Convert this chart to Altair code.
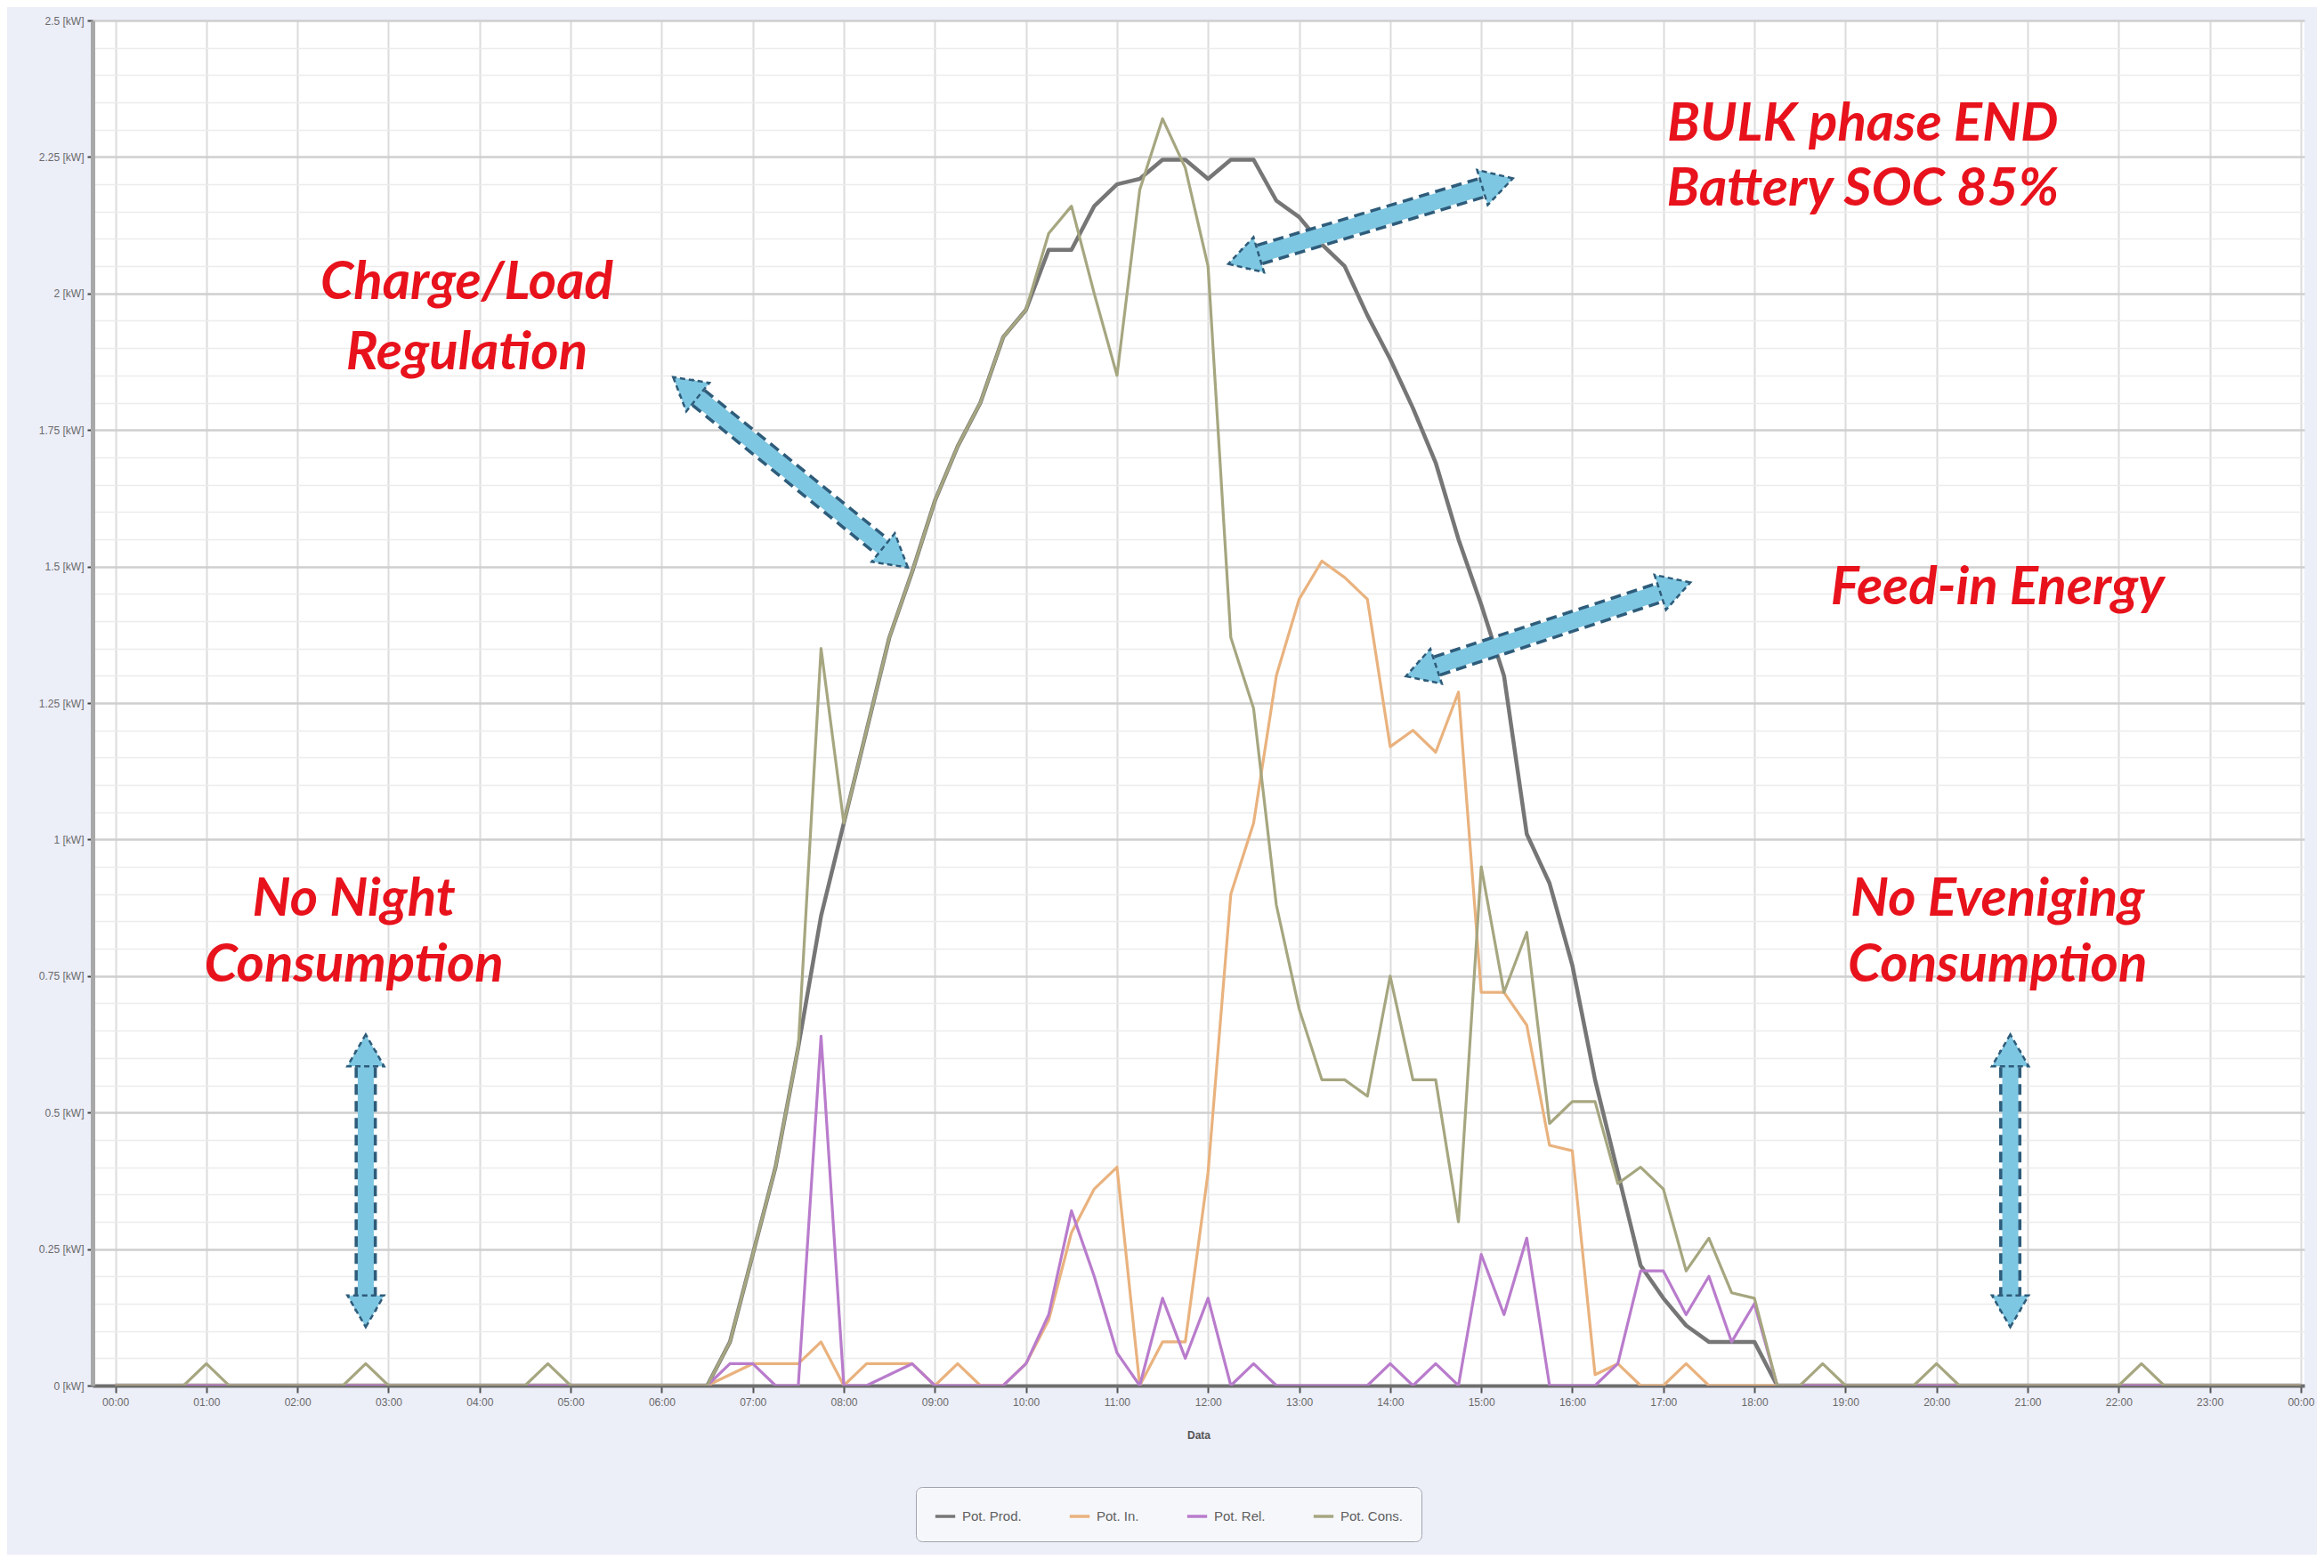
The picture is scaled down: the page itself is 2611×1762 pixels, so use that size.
import math
import altair as alt
import pandas as pd

# ---------------- data (15-minute samples, 00:00 .. 24:00) ----------------
hours = [i * 0.25 for i in range(97)]

z26 = [0.0] * 26  # 00:00 .. 06:15

prod = z26 + [
    0.00, 0.08, 0.24, 0.40, 0.62, 0.86, 1.03, 1.20, 1.37, 1.49,   # 06:30 - 08:45
    1.62, 1.72, 1.80, 1.92, 1.97, 2.08, 2.08, 2.16, 2.20, 2.21,   # 09:00 - 11:15
    2.245, 2.245, 2.21, 2.245, 2.245, 2.17, 2.14, 2.09, 2.05, 1.96,  # 11:30 - 13:45
    1.88, 1.79, 1.69, 1.55, 1.43, 1.30, 1.01, 0.92, 0.77, 0.56,   # 14:00 - 16:15
    0.39, 0.22, 0.16, 0.11, 0.08, 0.08, 0.08, 0.00,               # 16:30 - 18:15
] + [0.0] * 23

feed_in = z26 + [
    0.00, 0.02, 0.04, 0.04, 0.04, 0.08, 0.00, 0.04, 0.04, 0.04,
    0.00, 0.04, 0.00, 0.00, 0.04, 0.12, 0.28, 0.36, 0.40, 0.00,
    0.08, 0.08, 0.39, 0.90, 1.03, 1.30, 1.44, 1.51, 1.48, 1.44,
    1.17, 1.20, 1.16, 1.27, 0.72, 0.72, 0.66, 0.44, 0.43, 0.02,
    0.04, 0.00, 0.00, 0.04, 0.00, 0.00, 0.00, 0.00,
] + [0.0] * 23

rel = z26 + [
    0.00, 0.04, 0.04, 0.00, 0.00, 0.64, 0.00, 0.00, 0.02, 0.04,
    0.00, 0.00, 0.00, 0.00, 0.04, 0.13, 0.32, 0.20, 0.06, 0.00,
    0.16, 0.05, 0.16, 0.00, 0.04, 0.00, 0.00, 0.00, 0.00, 0.00,
    0.04, 0.00, 0.04, 0.00, 0.24, 0.13, 0.27, 0.00, 0.00, 0.00,
    0.04, 0.21, 0.21, 0.13, 0.20, 0.08, 0.15, 0.00,
] + [0.0] * 23

cons = [
    0.00, 0.00, 0.00, 0.00, 0.04, 0.00, 0.00, 0.00, 0.00, 0.00,   # 00:00 - 02:15
    0.00, 0.04, 0.00, 0.00, 0.00, 0.00, 0.00, 0.00, 0.00, 0.04,   # 02:30 - 04:45
    0.00, 0.00, 0.00, 0.00, 0.00, 0.00,                           # 05:00 - 06:15
    0.00, 0.08, 0.24, 0.40, 0.62, 1.35, 1.03, 1.20, 1.37, 1.49,   # 06:30 - 08:45
    1.62, 1.72, 1.80, 1.92, 1.97, 2.11, 2.16, 2.00, 1.85, 2.19,   # 09:00 - 11:15
    2.32, 2.23, 2.05, 1.37, 1.24, 0.88, 0.69, 0.56, 0.56, 0.53,   # 11:30 - 13:45
    0.75, 0.56, 0.56, 0.30, 0.95, 0.72, 0.83, 0.48, 0.52, 0.52,   # 14:00 - 16:15
    0.37, 0.40, 0.36, 0.21, 0.27, 0.17, 0.16, 0.00, 0.00, 0.04,   # 16:30 - 18:45
    0.00, 0.00, 0.00, 0.00, 0.04, 0.00, 0.00, 0.00, 0.00, 0.00,   # 19:00 - 21:15
    0.00, 0.00, 0.00, 0.04, 0.00, 0.00, 0.00, 0.00, 0.00, 0.00,   # 21:30 - 23:45
    0.00,                                                         # 24:00
]

series_names = ["Pot. Prod.", "Pot. In.", "Pot. Rel.", "Pot. Cons."]
series_colors = ["#767676", "#e9b27e", "#b97ccc", "#a6a680"]
series_widths = [4.5, 3.2, 3.2, 3.2]

# annotations (data units: hour, kW)
note_text = ["BULK phase END", "Battery SOC 85%", "Charge/Load", "Regulation",
             "Feed-in Energy", "No Night", "Consumption", "No Eveniging", "Consumption"]
note_h = [19.19, 19.19, 3.86, 3.86, 20.67, 2.62, 2.62, 20.67, 20.67]
note_k = [2.31, 2.19, 2.02, 1.89, 1.46, 0.89, 0.77, 0.89, 0.77]

# double arrows: (hour1, kW1) <-> (hour2, kW2)
arrow_h1 = [6.14, 12.24, 14.19, 2.75, 20.81]
arrow_k1 = [1.845, 2.055, 1.30, 0.64, 0.64]
arrow_h2 = [8.69, 15.33, 17.28, 2.75, 20.81]
arrow_k2 = [1.50, 2.21, 1.47, 0.11, 0.11]

# ---------------- layout ----------------
W, H = 2485, 1534
X_DOM = [-0.25, 24.04]
Y_DOM = [0, 2.5]
px_h = W / (X_DOM[1] - X_DOM[0])
px_k = H / (Y_DOM[1] - Y_DOM[0])

rows = []
for name, vals in zip(series_names, [prod, feed_in, rel, cons]):
    for h, v in zip(hours, vals):
        rows.append({"hour": h, "kw": v, "series": name})
df = pd.DataFrame(rows)

notes = pd.DataFrame({"hour": note_h, "kw": note_k, "t": note_text})

# arrow bodies and heads
body_rows, head_rows = [], []
HEAD_BACK = 16  # px from tip to head centre
for h1, k1, h2, k2 in zip(arrow_h1, arrow_k1, arrow_h2, arrow_k2):
    dx = (h2 - h1) * px_h
    dy = -(k2 - k1) * px_k
    L = math.hypot(dx, dy)
    ux, uy = dx / L, dy / L
    c2 = (h2 - ux * HEAD_BACK / px_h, k2 + uy * HEAD_BACK / px_k)
    c1 = (h1 + ux * HEAD_BACK / px_h, k1 - uy * HEAD_BACK / px_k)
    body_rows.append({"hour": c1[0], "kw": c1[1], "h2": c2[0], "k2": c2[1]})
    ang2 = math.degrees(math.atan2(ux, -uy)) % 360
    ang1 = (ang2 + 180) % 360
    head_rows.append({"hour": c2[0], "kw": c2[1], "a": ang2})
    head_rows.append({"hour": c1[0], "kw": c1[1], "a": ang1})
bodies = pd.DataFrame(body_rows)
heads = pd.DataFrame(head_rows)

xscale = alt.Scale(domain=X_DOM, nice=False, zero=False)
yscale = alt.Scale(domain=Y_DOM, nice=False)

y_ticks = [round(i * 0.05, 2) for i in range(51)]
major = "abs(round(datum.value*100) % 25) < 0.5"

x_axis = alt.Axis(
    values=list(range(25)),
    labelExpr="(datum.value % 24 < 10 ? '0' : '') + (datum.value % 24) + ':00'",
    title="Data",
    grid=True, gridColor="#dcdcdc", gridWidth=2,
    domainColor="#6e6e6e", domainWidth=4,
    tickColor="#555555", tickSize=8, tickWidth=2,
    labelFontSize=12, labelColor="#6a6a6a", labelFont="Liberation Sans",
    labelPadding=5,
    titleFontSize=12, titleColor="#555555", titleFont="Liberation Sans",
    titleFontWeight="bold", titlePadding=26,
)
y_axis = alt.Axis(
    values=y_ticks,
    labelExpr="(" + major + ") ? (round(datum.value*100)/100) + ' [kW]' : ''",
    title="",
    grid=True,
    gridColor={"condition": {"test": major, "value": "#cfcfcf"}, "value": "#ececec"},
    gridWidth={"condition": {"test": major, "value": 2.5}, "value": 1.5},
    tickColor={"condition": {"test": major, "value": "#444444"}, "value": "rgba(0,0,0,0)"},
    tickSize=6, tickWidth=2,
    domainColor="#a8a8a8", domainWidth=5,
    labelFontSize=12, labelColor="#6a6a6a", labelFont="Liberation Sans",
    labelPadding=4,
)

X = alt.X("hour:Q", scale=xscale, axis=x_axis)
Y = alt.Y("kw:Q", scale=yscale, axis=y_axis)

color = alt.Color(
    "series:N",
    scale=alt.Scale(domain=series_names, range=series_colors),
    legend=alt.Legend(
        orient="none", legendX=925, legendY=1648, direction="horizontal",
        title=None, symbolType="stroke", symbolStrokeWidth=3.5, symbolSize=500,
        labelFontSize=15, labelColor="#606060", labelFont="Liberation Sans",
        strokeColor="#a2a4ae", fillColor="#f6f7fb", padding=20,
        cornerRadius=7, columnPadding=46, labelOffset=6,
    ),
)

base = alt.Chart(df)
lines = []
for name, w in zip(series_names, series_widths):
    lines.append(
        base.transform_filter(alt.datum.series == name)
        .mark_line(strokeWidth=w, strokeJoin="round", clip=True)
        .encode(x=X, y=Y, color=color)
    )

body_out = alt.Chart(bodies).mark_rule(
    strokeWidth=25, color="#2e5c7a", strokeDash=[12, 7], strokeCap="butt"
).encode(x=X, y=Y, x2="h2:Q", y2="k2:Q")
body_in = alt.Chart(bodies).mark_rule(
    strokeWidth=18, color="#7ec7e2", strokeCap="butt"
).encode(x=X, y=Y, x2="h2:Q", y2="k2:Q")
head_marks = alt.Chart(heads).mark_point(
    shape="triangle-up", filled=True, size=1700, fill="#7ec7e2", fillOpacity=1,
    stroke="#2e5c7a", strokeWidth=2.5, strokeDash=[6, 4], opacity=1,
).encode(x=X, y=Y, angle=alt.Angle("a:Q", scale=None))

texts = alt.Chart(notes).mark_text(
    font="Lato", fontStyle="italic", fontWeight="bold", fontSize=60,
    color="#e8121c", align="center", baseline="middle",
).encode(x=X, y=Y, text="t:N")

chart = alt.layer(*lines, body_out, body_in, head_marks, texts).properties(
    width=W, height=H,
    padding={"left": 96, "top": 15, "right": 14, "bottom": 190},
    autosize=alt.AutoSizeParams(type="none"),
    background="#eceef8",
).configure_view(fill="#ffffff", stroke=None)

chart.save("out.html", embed_options={"renderer": "svg", "actions": False})
